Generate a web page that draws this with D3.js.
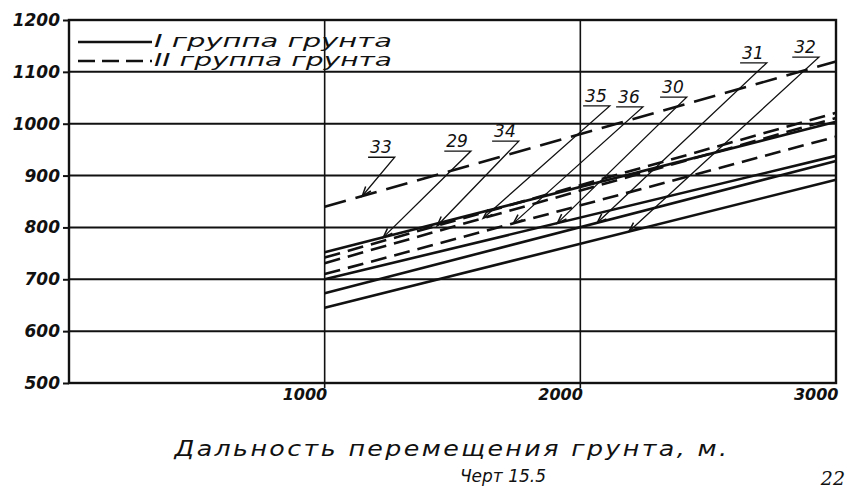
<!DOCTYPE html>
<html>
<head>
<meta charset="utf-8">
<script src="https://cdn.jsdelivr.net/npm/d3@7"></script>
<style>
body { margin: 0; background: #fff; }
text { font-family: "DejaVu Sans", sans-serif; font-style: italic; fill: #111; }
</style>
</head>
<body>
<svg id="chart" width="846" height="490"></svg>
<script>
// values (x = distance, m)
const distance = [1000, 3000];
const lineIds   = ['33', '29', '34', '35', '36', '30', '31', '32'];
const lineGroup = [2, 1, 2, 2, 2, 1, 1, 1];   // 1 = solid (I group), 2 = dashed (II group)
const valAt1000 = [840, 752, 742, 731, 710, 700, 673, 645];
const valAt3000 = [1120, 1004, 1021, 1011, 975, 938, 928, 892];

const yTicks = [500, 600, 700, 800, 900, 1000, 1100, 1200];
const xTicks = [1000, 2000, 3000];

// number labels (data coords) and where their arrows hit the line
const labelX = [1220, 1518, 1705, 2061, 2190, 2362, 2675, 2879];
const labelY = [943, 955, 974, 1042, 1040, 1059, 1125, 1136];
const tipX   = [1147, 1229, 1440, 1620, 1738, 1910, 2066, 2190];

const legendNames = ['I группа грунта', 'II группа грунта'];

const width = 846, height = 490;
const margin = {top: 20, right: 10, bottom: 107, left: 69};
const ink = '#111';

const svg = d3.select('#chart');

const x = d3.scaleLinear().domain([0, 3000]).range([margin.left, width - margin.right]);
const y = d3.scaleLinear().domain([500, 1200]).range([height - margin.bottom, margin.top]);

// horizontal grid
svg.append('g')
    .selectAll('line')
    .data(yTicks.filter(function(d) { return d > 500 && d < 1200; }))
    .enter()
    .append('line')
    .attr('x1', x(0)).attr('x2', x(3000))
    .attr('y1', function(d) { return y(d); })
    .attr('y2', function(d) { return y(d); })
    .attr('stroke', ink).attr('stroke-width', 2);

// vertical grid (runs a little below the frame as a tick)
svg.append('g')
    .selectAll('line')
    .data(xTicks.filter(function(d) { return d < 3000; }))
    .enter()
    .append('line')
    .attr('x1', function(d) { return x(d); })
    .attr('x2', function(d) { return x(d); })
    .attr('y1', y(1200)).attr('y2', y(500) + 5)
    .attr('stroke', ink).attr('stroke-width', 1.6);

// frame
svg.append('rect')
    .attr('x', x(0)).attr('y', y(1200))
    .attr('width', x(3000) - x(0)).attr('height', y(500) - y(1200))
    .attr('fill', 'none').attr('stroke', ink).attr('stroke-width', 2.4);

// y axis
let yAxis = svg.append('g')
    .attr('transform', 'translate(' + x(0) + ',0)')
    .call(d3.axisLeft(y).tickValues(yTicks).tickFormat(d3.format('d')).tickSize(6).tickPadding(3));
yAxis.select('.domain').remove();
yAxis.selectAll('line').attr('stroke', ink).attr('stroke-width', 2);
yAxis.selectAll('text')
    .attr('fill', ink)
    .style('font-size', '17px')
    .style('font-weight', 'bold')
    .style('font-family', '"DejaVu Sans", sans-serif')
    .style('font-style', 'italic');

// x axis labels
let xAxis = svg.append('g')
    .attr('transform', 'translate(0,' + y(500) + ')')
    .call(d3.axisBottom(x).tickValues(xTicks).tickFormat(d3.format('d')).tickSize(0));
xAxis.select('.domain').remove();
xAxis.selectAll('text')
    .attr('fill', ink)
    .attr('text-anchor', 'end')
    .attr('dx', 2)
    .attr('y', 17)
    .attr('dy', 0)
    .style('font-size', '16px')
    .style('font-weight', 'bold')
    .style('font-family', '"DejaVu Sans", sans-serif')
    .style('font-style', 'italic');

// data lines
const line = d3.line()
    .x(function(d) { return x(d[0]); })
    .y(function(d) { return y(d[1]); });

lineIds.forEach(function(id, i) {
    let pts = [[distance[0], valAt1000[i]], [distance[1], valAt3000[i]]];
    svg.append('path')
        .attr('d', line(pts))
        .attr('fill', 'none')
        .attr('stroke', ink)
        .attr('stroke-width', 2.6)
        .attr('stroke-dasharray', lineGroup[i] == 2 ? (i == 0 ? '22,10' : '16,8') : null);
});

// number labels with leaders
lineIds.forEach(function(id, i) {
    let onLine = d3.scaleLinear().domain(distance).range([valAt1000[i], valAt3000[i]]);
    let tx = x(tipX[i]), ty = y(onLine(tipX[i]));
    let lx = x(labelX[i]), ly = y(labelY[i]);

    let t = svg.append('text')
        .attr('x', lx).attr('y', ly)
        .attr('text-anchor', 'middle')
        .style('font-size', '17px')
        .text(id);
    let box = t.node().getBBox();
    let ux0 = box.x - 2, ux1 = box.x + box.width + 3, uy = ly + 4;

    svg.append('path')
        .attr('d', 'M' + ux0 + ',' + uy + 'L' + ux1 + ',' + uy + 'L' + tx + ',' + ty)
        .attr('fill', 'none')
        .attr('stroke', ink)
        .attr('stroke-width', 1.3);

    // arrow head
    let a = Math.atan2(uy - ty, ux1 - tx);
    let len = 10, spread = 0.35;
    let p1 = [tx + len * Math.cos(a - spread), ty + len * Math.sin(a - spread)];
    let p2 = [tx + len * Math.cos(a + spread), ty + len * Math.sin(a + spread)];
    svg.append('path')
        .attr('d', 'M' + p1 + 'L' + tx + ',' + ty + 'L' + p2)
        .attr('fill', 'none')
        .attr('stroke', ink)
        .attr('stroke-width', 1.5);
});

// legend
legendNames.forEach(function(name, i) {
    let ly = 42 + i * 19;
    svg.append('line')
        .attr('x1', 78).attr('x2', 152)
        .attr('y1', ly).attr('y2', ly)
        .attr('stroke', ink).attr('stroke-width', 2.6)
        .attr('stroke-dasharray', i == 1 ? '17,7' : null);
    svg.append('text')
        .attr('x', 154).attr('y', ly + 5)
        .attr('textLength', 238)
        .attr('lengthAdjust', 'spacingAndGlyphs')
        .style('font-size', '17px')
        .text(name);
});

// axis title and captions
svg.append('text')
    .attr('x', 452).attr('y', 456)
    .attr('text-anchor', 'middle')
    .attr('textLength', 555)
    .attr('lengthAdjust', 'spacingAndGlyphs')
    .style('font-size', '21px')
    .style('letter-spacing', '2px')
    .text('Дальность перемещения грунта, м.');

svg.append('text')
    .attr('x', 503).attr('y', 482)
    .attr('text-anchor', 'middle')
    .style('font-size', '17px')
    .text('Черт 15.5');

svg.append('text')
    .attr('x', 845).attr('y', 485)
    .attr('text-anchor', 'end')
    .style('font-size', '19px')
    .style('font-family', '"DejaVu Serif", serif')
    .text('22');
</script>
</body>
</html>
